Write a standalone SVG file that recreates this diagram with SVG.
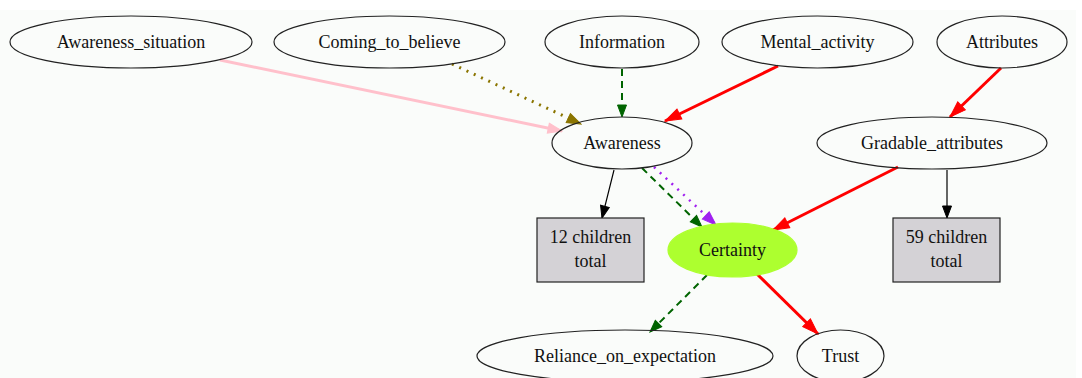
<svg xmlns="http://www.w3.org/2000/svg" width="1082" height="378" viewBox="0 0 1082 378">
<style>
.n ellipse{fill:none;stroke:#222;stroke-width:1.2}
.n rect{fill:#d4d2d6;stroke:#222;stroke-width:1.2}
text{font-family:"Liberation Serif","Times New Roman",serif;font-size:18px;fill:#111;text-anchor:middle}
.e{fill:none}
</style>
<defs>
<marker id="aBlack" markerUnits="userSpaceOnUse" markerWidth="14" markerHeight="14" viewBox="0 0 14 14" refX="13" refY="7" orient="auto"><path d="M1,2.5 L13,7 L1,11.5 Z" fill="#000" stroke="#000"/></marker>
<marker id="aRed" markerUnits="userSpaceOnUse" markerWidth="18" markerHeight="18" viewBox="0 0 18 18" refX="17" refY="9" orient="auto"><path d="M1,3.5 L17,9 L1,14.5 Z" fill="#ff0000" stroke="#ff0000"/></marker>
<marker id="aGreen" markerUnits="userSpaceOnUse" markerWidth="14" markerHeight="14" viewBox="0 0 14 14" refX="13" refY="7" orient="auto"><path d="M1,2.5 L13,7 L1,11.5 Z" fill="#006400" stroke="#006400"/></marker>
<marker id="aPink" markerUnits="userSpaceOnUse" markerWidth="16" markerHeight="16" viewBox="0 0 16 16" refX="15" refY="8" orient="auto"><path d="M1,3 L15,8 L1,13 Z" fill="#ffc0cb" stroke="#ffc0cb"/></marker>
<marker id="aOlive" markerUnits="userSpaceOnUse" markerWidth="16" markerHeight="16" viewBox="0 0 16 16" refX="15" refY="8" orient="auto"><path d="M1,3 L15,8 L1,13 Z" fill="#8b7500" stroke="#8b7500"/></marker>
<marker id="aPurple" markerUnits="userSpaceOnUse" markerWidth="16" markerHeight="16" viewBox="0 0 16 16" refX="15" refY="8" orient="auto"><path d="M1,3 L15,8 L1,13 Z" fill="#a020f0" stroke="#a020f0"/></marker>
</defs>
<rect x="0" y="0" width="1082" height="378" fill="#ffffff"/>
<rect x="0" y="10" width="1076" height="368" fill="#fafcfa"/>
<g id="connectors">
<path class="e" d="M220,60 L562,131" stroke="#ffc0cb" stroke-width="3" marker-end="url(#aPink)"/>
<path class="e" d="M452,64 L581,124" stroke="#8b7500" stroke-width="3" stroke-dasharray="2,6" marker-end="url(#aOlive)"/>
<path class="e" d="M622,69 L622,117" stroke="#006400" stroke-width="2" stroke-dasharray="7,5" marker-end="url(#aGreen)"/>
<path class="e" d="M778,66 L665,121" stroke="#ff0000" stroke-width="3" marker-end="url(#aRed)"/>
<path class="e" d="M1001,68 L950,117" stroke="#ff0000" stroke-width="3" marker-end="url(#aRed)"/>
<path class="e" d="M614,170 L602,218" stroke="#000" stroke-width="1.2" marker-end="url(#aBlack)"/>
<path class="e" d="M642,168 L702,227" stroke="#006400" stroke-width="2" stroke-dasharray="7,5" marker-end="url(#aGreen)"/>
<path class="e" d="M654,167 L716,225" stroke="#a020f0" stroke-width="2.5" stroke-dasharray="2,6" marker-end="url(#aPurple)"/>
<path class="e" d="M898,167 L773,230" stroke="#ff0000" stroke-width="3" marker-end="url(#aRed)"/>
<path class="e" d="M947,170 L947,218" stroke="#000" stroke-width="1.2" marker-end="url(#aBlack)"/>
<path class="e" d="M707,275 L650,332" stroke="#006400" stroke-width="2" stroke-dasharray="7,5" marker-end="url(#aGreen)"/>
<path class="e" d="M757,274 L818,334" stroke="#ff0000" stroke-width="3" marker-end="url(#aRed)"/>
</g>
<g id="Awareness_situation" class="n"><ellipse cx="131" cy="42" rx="121" ry="26"/><text x="131" y="48">Awareness_situation</text></g>
<g id="Coming_to_believe" class="n"><ellipse cx="389.5" cy="42" rx="115.5" ry="26"/><text x="389.5" y="48">Coming_to_believe</text></g>
<g id="Information" class="n"><ellipse cx="622" cy="42" rx="77" ry="26"/><text x="622" y="48">Information</text></g>
<g id="Mental_activity" class="n"><ellipse cx="817.5" cy="42" rx="95.5" ry="26"/><text x="817.5" y="48">Mental_activity</text></g>
<g id="Attributes" class="n"><ellipse cx="1002" cy="42" rx="65" ry="26"/><text x="1002" y="48">Attributes</text></g>
<g id="Awareness" class="n"><ellipse cx="622" cy="143" rx="70" ry="26"/><text x="622" y="149">Awareness</text></g>
<g id="Gradable_attributes" class="n"><ellipse cx="932" cy="143" rx="115" ry="26"/><text x="932" y="149">Gradable_attributes</text></g>
<g id="children12" class="n"><rect x="537" y="218" width="107" height="64"/><text x="590.5" y="243">12 children</text><text x="590.5" y="267">total</text></g>
<g id="Certainty" class="n"><ellipse cx="732.5" cy="250" rx="64.5" ry="27" style="fill:#adff2f;stroke:#adff2f"/><text x="732.5" y="256">Certainty</text></g>
<g id="children59" class="n"><rect x="893" y="218" width="107" height="64"/><text x="946.5" y="243">59 children</text><text x="946.5" y="267">total</text></g>
<g id="Reliance_on_expectation" class="n"><ellipse cx="625" cy="356" rx="148" ry="26"/><text x="625" y="362">Reliance_on_expectation</text></g>
<g id="Trust" class="n"><ellipse cx="840.5" cy="356" rx="43.5" ry="26"/><text x="840.5" y="362">Trust</text></g>
</svg>
